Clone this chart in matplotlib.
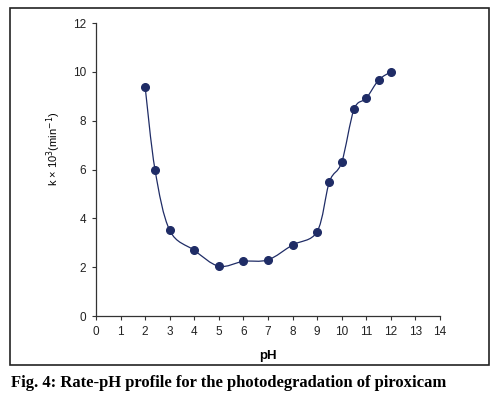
import matplotlib.pyplot as plt
import numpy as np
from matplotlib.path import Path
from matplotlib.patches import PathPatch, Rectangle

# data
ph = [2.0, 2.4, 3.0, 4.0, 5.0, 6.0, 7.0, 8.0, 9.0, 9.5, 10.0, 10.5, 11.0, 11.5, 12.0]
k = [9.38, 6.0, 3.51, 2.69, 2.04, 2.24, 2.30, 2.91, 3.46, 5.50, 6.30, 8.46, 8.92, 9.66, 10.0]
xticks = list(range(0, 15))
yticks = [0, 2, 4, 6, 8, 10, 12]

navy = '#1f2c66'


def smooth_path(x, y, t=1 / 6):
    # Excel-style smoothed line as cubic bezier segments through the points
    pts = np.column_stack([x, y])
    verts = [pts[0]]
    codes = [Path.MOVETO]
    n = len(pts)
    for i in range(n - 1):
        p0 = pts[i - 1] if i > 0 else pts[i]
        p1, p2 = pts[i], pts[i + 1]
        p3 = pts[i + 2] if i + 2 < n else pts[i + 1]
        c1 = p1 + (p2 - p0) * t
        c2 = p2 - (p3 - p1) * t
        verts += [c1, c2, p2]
        codes += [Path.CURVE4] * 3
    return Path(verts, codes)


fig = plt.figure(figsize=(5, 3.97), dpi=100)
fig.patches.append(Rectangle((10 / 500, 1 - 365 / 397), 479 / 500, 357 / 397,
                             transform=fig.transFigure, fill=False,
                             edgecolor='#222222', linewidth=1.2))

ax = fig.add_axes([0.192, 0.204, 0.688, 0.738])
ax.add_patch(PathPatch(smooth_path(ph, k), fill=False, edgecolor=navy, linewidth=0.9))
ax.plot(ph, k, linestyle='none', marker='o', markersize=5.5, color=navy)

ax.set_xlim(0, 14)
ax.set_ylim(0, 12)
ax.set_xticks(xticks)
ax.set_yticks(yticks)
for s in ['top', 'right']:
    ax.spines[s].set_visible(False)
for s in ['left', 'bottom']:
    ax.spines[s].set_color('#333333')
    ax.spines[s].set_linewidth(0.9)
ax.tick_params(direction='out', length=3, width=0.8, colors='#333333',
               labelsize=8.5, labelcolor='#222222', pad=4)
for lab in ax.get_xticklabels() + ax.get_yticklabels():
    lab.set_family('Liberation Sans')

ax.set_xlabel('pH', fontsize=9.5, fontweight='bold', family='Liberation Sans')
ax.xaxis.set_label_coords(0.5, -0.115)
ax.set_ylabel(r'k × 10$^{3}$(min$^{-1}$)', fontsize=8, family='Liberation Sans')
ax.yaxis.set_label_coords(-0.095, 0.57)

fig.text(11 / 500, 1 - 383 / 397, 'Fig. 4: Rate-pH profile for the photodegradation of piroxicam',
         fontsize=12, fontweight='bold', family='Liberation Serif', va='center', ha='left')

plt.savefig('out.png', dpi=100)
